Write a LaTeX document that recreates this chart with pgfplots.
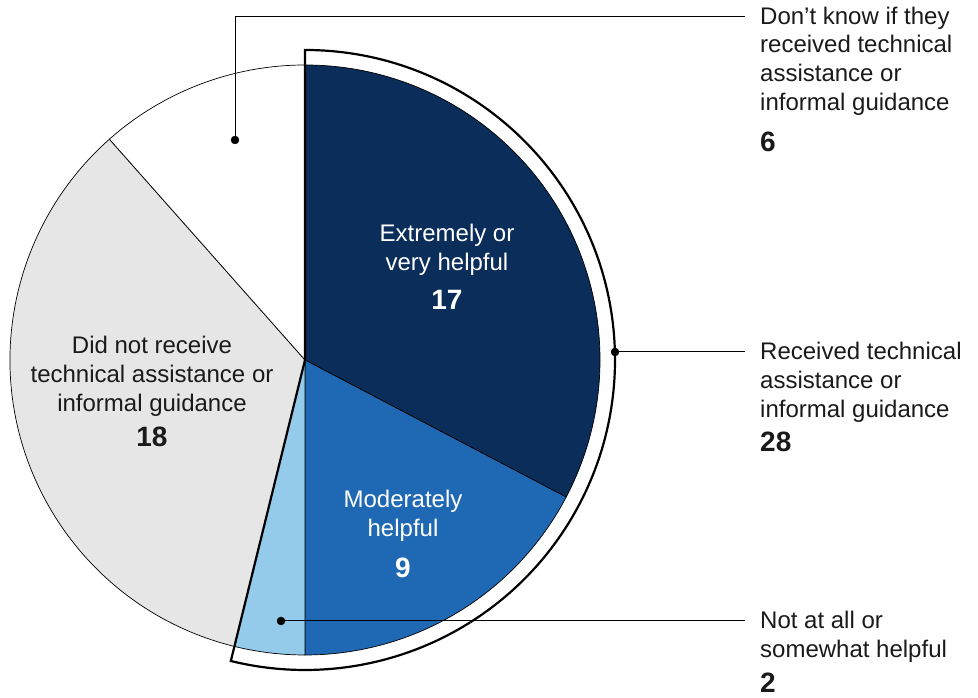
\documentclass[border=0pt]{standalone}
\usepackage{pgfplots}
\pgfplotsset{compat=1.18}
\usepackage{fontspec}
\setmainfont{Liberation Sans}
\definecolor{navy}{HTML}{0A2D5A}
\definecolor{midblue}{HTML}{1F69B4}
\definecolor{lightblue}{HTML}{95CBEA}
\definecolor{lightgrey}{HTML}{E6E6E6}
\definecolor{txt}{HTML}{1A1A1A}
% data: Extremely/very helpful, Moderately helpful, Not at all/somewhat helpful, Did not receive, Don't know
\def\vA{17}\def\vB{9}\def\vC{2}\def\vD{18}\def\vE{6}
\pgfmathsetmacro\tot{\vA+\vB+\vC+\vD+\vE}
\pgfmathsetmacro\aA{90}
\pgfmathsetmacro\aB{\aA-360*\vA/\tot}
\pgfmathsetmacro\aC{\aB-360*\vB/\tot}
\pgfmathsetmacro\aD{\aC-360*\vC/\tot}
\pgfmathsetmacro\aE{\aD-360*\vD/\tot}
\pgfmathsetmacro\aF{\aE-360*\vE/\tot}
\newcommand\txtfont{\fontsize{24}{29}\selectfont}
\newcommand\numfont{\fontsize{28}{29}\selectfont\bfseries}
\begin{document}
\begin{tikzpicture}
\begin{axis}[
  width=978pt, height=698pt, scale only axis,
  xmin=0, xmax=978, ymin=0, ymax=698,
  hide axis, clip=false,
]
\path (axis cs:0,0) rectangle (axis cs:978,698);
% outer white bracket sector for "received"
\fill[white] (axis cs:305,338) -- ++(\aA:310) arc[start angle=\aA, end angle=\aD, radius=310] -- cycle;
% slices
\filldraw[fill=navy, draw=black, line width=0.7pt] (axis cs:305,338) -- ++(\aA:295) arc[start angle=\aA, end angle=\aB, radius=295] -- cycle;
\filldraw[fill=midblue, draw=black, line width=0.7pt] (axis cs:305,338) -- ++(\aB:295) arc[start angle=\aB, end angle=\aC, radius=295] -- cycle;
\filldraw[fill=lightblue, draw=black, line width=0.7pt] (axis cs:305,338) -- ++(\aC:295) arc[start angle=\aC, end angle=\aD, radius=295] -- cycle;
\filldraw[fill=lightgrey, draw=black, line width=0.7pt] (axis cs:305,338) -- ++(\aD:295) arc[start angle=\aD, end angle=\aE, radius=295] -- cycle;
\filldraw[fill=white, draw=black, line width=0.7pt] (axis cs:305,338) -- ++(\aE:295) arc[start angle=\aE, end angle=\aF, radius=295] -- cycle;
% outline of received group
\draw[black, line width=2.2pt, line join=miter] (axis cs:305,338) -- ++(\aA:310) arc[start angle=\aA, end angle=\aD, radius=310] -- cycle;
% leader lines
\addplot[black, line width=1pt, mark=none] coordinates {(235,558) (235,681) (745,681)};
\addplot[black, line width=1pt, mark=none] coordinates {(615,346) (745,346)};
\addplot[black, line width=1pt, mark=none] coordinates {(281,77) (745,77)};
\addplot[only marks, mark=*, mark size=4pt, black] coordinates {(235,558) (615,346) (281,77)};
% inner labels
\node[anchor=base, font=\txtfont, text=white] at (axis cs:447,456) {Extremely or};
\node[anchor=base, font=\txtfont, text=white] at (axis cs:447,427) {very helpful};
\node[anchor=base, font=\numfont, text=white] at (axis cs:447,388) {17};
\node[anchor=base, font=\txtfont, text=white] at (axis cs:403,190) {Moderately};
\node[anchor=base, font=\txtfont, text=white] at (axis cs:403,161) {helpful};
\node[anchor=base, font=\numfont, text=white] at (axis cs:403,120) {9};
\node[anchor=base, font=\txtfont, text=txt] at (axis cs:152,344) {Did not receive};
\node[anchor=base, font=\txtfont, text=txt] at (axis cs:152,315) {technical assistance or};
\node[anchor=base, font=\txtfont, text=txt] at (axis cs:152,286) {informal guidance};
\node[anchor=base, font=\numfont, text=txt] at (axis cs:152,251) {18};
% right labels
\node[anchor=base west, font=\txtfont, text=txt, inner sep=0pt] at (axis cs:760,673) {Don’t know if they};
\node[anchor=base west, font=\txtfont, text=txt, inner sep=0pt] at (axis cs:760,645) {received technical};
\node[anchor=base west, font=\txtfont, text=txt, inner sep=0pt] at (axis cs:760,616) {assistance or};
\node[anchor=base west, font=\txtfont, text=txt, inner sep=0pt] at (axis cs:760,587) {informal guidance};
\node[anchor=base west, font=\numfont, text=txt, inner sep=0pt] at (axis cs:760,546) {6};
\node[anchor=base west, font=\txtfont, text=txt, inner sep=0pt] at (axis cs:760,338) {Received technical};
\node[anchor=base west, font=\txtfont, text=txt, inner sep=0pt] at (axis cs:760,309) {assistance or};
\node[anchor=base west, font=\txtfont, text=txt, inner sep=0pt] at (axis cs:760,280) {informal guidance};
\node[anchor=base west, font=\numfont, text=txt, inner sep=0pt] at (axis cs:760,246) {28};
\node[anchor=base west, font=\txtfont, text=txt, inner sep=0pt] at (axis cs:760,69) {Not at all or};
\node[anchor=base west, font=\txtfont, text=txt, inner sep=0pt] at (axis cs:760,40) {somewhat helpful};
\node[anchor=base west, font=\numfont, text=txt, inner sep=0pt] at (axis cs:760,5) {2};
\end{axis}
\pgfresetboundingbox
\useasboundingbox (current axis.south west) rectangle (current axis.north east);
\end{tikzpicture}
\end{document}
